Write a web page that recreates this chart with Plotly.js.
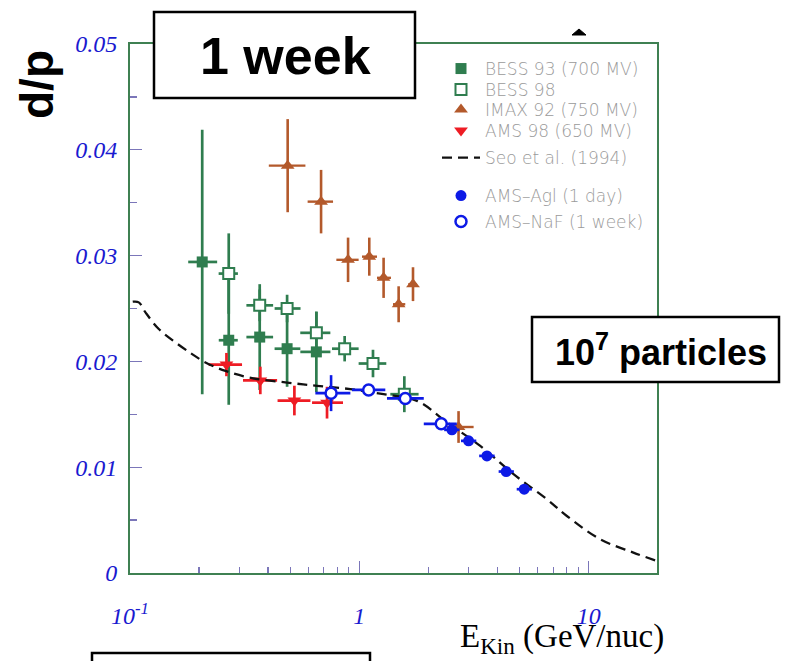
<!DOCTYPE html>
<html>
<head>
<meta charset="utf-8">
<script src="https://cdn.plot.ly/plotly-3.0.1.min.js"></script>
<style>html,body{margin:0;padding:0;background:#fff;}#chart{width:785px;height:661px;}</style>
</head>
<body>
<div id="chart"></div>
<script>
// ---- data ----
const bess93E = [0.2065, 0.2695, 0.3678, 0.4842, 0.6496];
const bess93V = [0.0294, 0.0220, 0.0223, 0.0212, 0.0209];
const bess93Err = [0.0125, 0.0061, 0.0050, 0.0036, 0.0038];
const bess93XP = [0.0334, 0.0256, 0.0529, 0.0688, 0.0984];
const bess93XM = [0.0271, 0.0257, 0.0460, 0.0572, 0.0966];

const bess98E = [0.2695, 0.3678, 0.4842, 0.6496, 0.863, 1.147, 1.571];
const bess98V = [0.0283, 0.0253, 0.0250, 0.0227, 0.0212, 0.0198, 0.0169];
const bess98Err = [0.0038, 0.0015, 0.0013, 0.0020, 0.0012, 0.0013, 0.0017];
const bess98XP = [0.026, 0.053, 0.070, 0.098, 0.130, 0.164, 0.242];
const bess98XM = [0.026, 0.046, 0.057, 0.097, 0.103, 0.154, 0.206];

const imaxE = [0.487, 0.681, 0.893, 1.105, 1.276, 1.484, 1.714, 2.708];
const imaxV = [0.0385, 0.0351, 0.0296, 0.0299, 0.0279, 0.0254, 0.0273, 0.0138];
const imaxErr = [0.0044, 0.0030, 0.0021, 0.0018, 0.0019, 0.0017, 0.0016, 0.0015];
const imaxXP = [0.095, 0.087, 0.100, 0.089, 0.098, 0.102, 0.066, 0.442];
const imaxXM = [0.084, 0.086, 0.099, 0.078, 0.082, 0.082, 0.079, 0.298];

const ams98E = [0.2634, 0.370, 0.521, 0.723];
const ams98V = [0.0197, 0.0182, 0.0163, 0.0161];
const ams98Err = [0.0011, 0.0013, 0.0014, 0.0015];
const ams98XP = [0.0446, 0.068, 0.091, 0.126];
const ams98XM = [0.0429, 0.059, 0.081, 0.101];

const seoE = [0.1028, 0.1092, 0.1168, 0.1335, 0.1578, 0.1866, 0.2133, 0.2607, 0.3406, 0.4842, 0.6542, 0.9137, 1.276, 1.784, 2.411, 3.367, 4.703, 6.576, 8.035, 11.22, 15.67, 19.82];
const seoV = [0.02564, 0.02558, 0.02463, 0.02306, 0.0218, 0.02069, 0.0199, 0.0191, 0.01842, 0.0180, 0.01769, 0.01738, 0.0169, 0.01627, 0.01423, 0.01201, 0.00934, 0.00697, 0.00539, 0.00319, 0.00193, 0.00114];

const aglE = [2.534, 2.995, 3.601, 4.37, 5.236];
const aglV = [0.01353, 0.01249, 0.01107, 0.00959, 0.00792];
const aglErr = [0.0003, 0.0003, 0.0003, 0.0003, 0.0003];
const aglXP = [0.20, 0.24, 0.29, 0.35, 0.42];
const aglXM = [0.19, 0.22, 0.27, 0.32, 0.38];

const nafE = [0.753, 1.098, 1.586, 2.276];
const nafV = [0.0170, 0.0173, 0.0165, 0.0141];
const nafErr = [0.0017, 0.0004, 0.0003, 0.0003];
const nafXP = [0.161, 0.200, 0.324, 0.384];
const nafXM = [0.110, 0.169, 0.266, 0.366];

const xTickVals = [0.1, 1, 10];
const xTickText = ['10<sup>-1</sup>', '1', '10'];
const xMinorVals = [0.2,0.3,0.4,0.5,0.6,0.7,0.8,0.9,2,3,4,5,6,7,8,9];
const yTickVals = [0, 0.01, 0.02, 0.03, 0.04, 0.05];
const yTickText = ['0', '0.01', '0.02', '0.03', '0.04', '0.05'];
const yMinorVals = [0.005,0.015,0.025,0.035,0.045];

// ---- styles ----
const GREEN = '#2f7d4f', BROWN = '#b3592b', RED = '#ee1c24', BLUE = '#0d1ae6';
const FRAME = '#3f8052', TICKC = '#7b76b9';

function ex(p, m, c, w) { return {type:'data', symmetric:false, array:p, arrayminus:m, color:c, thickness:w, width:0}; }
function ey(e, c, w) { return {type:'data', array:e, color:c, thickness:w, width:0}; }

const traces = [
  {x:bess93E, y:bess93V, name:'BESS 93 (700 MV)', mode:'markers', type:'scatter', legend:'legend',
   marker:{symbol:'square', size:11, color:GREEN},
   error_y:ey(bess93Err, GREEN, 2.7), error_x:ex(bess93XP, bess93XM, GREEN, 2.7)},
  {x:bess98E, y:bess98V, name:'BESS 98', mode:'markers', type:'scatter', legend:'legend2',
   marker:{symbol:'square', size:11, color:'#ffffff', line:{color:GREEN, width:2}},
   error_y:ey(bess98Err, GREEN, 2.7), error_x:ex(bess98XP, bess98XM, GREEN, 2.7)},
  {x:imaxE, y:imaxV, name:'IMAX 92 (750 MV)', mode:'markers', type:'scatter', legend:'legend3',
   marker:{symbol:'triangle-up', size:12, color:BROWN},
   error_y:ey(imaxErr, BROWN, 2.6), error_x:ex(imaxXP, imaxXM, BROWN, 2.4)},
  {x:ams98E, y:ams98V, name:'AMS 98 (650 MV)', mode:'markers', type:'scatter', legend:'legend4',
   marker:{symbol:'triangle-down', size:12, color:RED},
   error_y:ey(ams98Err, RED, 2.7), error_x:ex(ams98XP, ams98XM, RED, 2.7)},
  {x:seoE, y:seoV, name:'Seo et al. (1994)', mode:'lines', type:'scatter', legend:'legend5',
   line:{color:'#111111', width:2.3, dash:'10px,6px', shape:'spline', smoothing:1}},
  {x:nafE, y:nafV, name:'AMS\u2013NaF (1 week)', mode:'markers', type:'scatter', legend:'legend7',
   marker:{symbol:'circle', size:11, color:'#ffffff', line:{color:BLUE, width:2.5}},
   error_y:ey(nafErr, BLUE, 2.6), error_x:ex(nafXP, nafXM, BLUE, 2.7)},
  {x:aglE, y:aglV, name:'AMS\u2013Agl (1 day)', mode:'markers', type:'scatter', legend:'legend6',
   marker:{symbol:'circle', size:11, color:BLUE},
   error_y:ey(aglErr, BLUE, 2), error_x:ex(aglXP, aglXM, BLUE, 2.7)}
];

// pixel helpers for paper-placed decorations (plot area 130..657 x 44..573)
const PL = 130, PR = 657, PT = 44, PB = 573;
const px = v => (v - PL) / (PR - PL);
const py = v => (PB - v) / (PB - PT);

const legFont = {family:'DejaVu Sans', size:17, color:'#9a9a9a', weight:300};
function leg(yv) { return {x:px(437), xanchor:'left', y:py(yv), yanchor:'middle', bgcolor:'rgba(0,0,0,0)', borderwidth:0, font:legFont, itemwidth:38}; }
const tickFont = {family:'Liberation Serif', size:24, color:'#1a1ad0', style:'italic'};

const layout = {
  width:785, height:661,
  margin:{l:PL, r:785-PR, t:PT, b:661-PB, pad:0},
  paper_bgcolor:'#ffffff', plot_bgcolor:'#ffffff',
  showlegend:true,
  legend:leg(69), legend2:leg(90), legend3:leg(110), legend4:leg(131),
  legend5:leg(158), legend6:leg(196), legend7:leg(222),
  xaxis:{type:'log', range:[-1, 1.298], showgrid:false, zeroline:false,
    showline:true, mirror:true, linecolor:FRAME, linewidth:2,
    tickmode:'array', tickvals:xTickVals, ticktext:xTickText,
    ticks:'inside', ticklen:12, tickwidth:1.2, tickcolor:TICKC, ticklabelstandoff:20,
    tickfont:tickFont,
    minor:{tickmode:'array', tickvals:xMinorVals, ticks:'inside', ticklen:6, tickwidth:1.2, tickcolor:TICKC, showgrid:false}},
  yaxis:{range:[0, 0.05], showgrid:false, zeroline:false,
    showline:true, mirror:true, linecolor:FRAME, linewidth:2,
    tickmode:'array', tickvals:yTickVals, ticktext:yTickText,
    ticks:'inside', ticklen:12, tickwidth:1.2, tickcolor:TICKC, ticklabelstandoff:6,
    tickfont:tickFont,
    minor:{tickmode:'array', tickvals:yMinorVals, ticks:'inside', ticklen:7, tickwidth:1.2, tickcolor:TICKC, showgrid:false}},
  shapes:[
    {type:'rect', xref:'paper', yref:'paper', x0:px(154), x1:px(415), y0:py(98), y1:py(12), fillcolor:'#ffffff', line:{color:'#000000', width:2.5}, layer:'above'},
    {type:'rect', xref:'paper', yref:'paper', x0:px(532), x1:px(779), y0:py(382), y1:py(317), fillcolor:'#ffffff', line:{color:'#000000', width:2.5}, layer:'above'},
    {type:'rect', xref:'paper', yref:'paper', x0:px(92), x1:px(370), y0:py(700), y1:py(653), fillcolor:'rgba(0,0,0,0)', line:{color:'#000000', width:2.5}, layer:'above'},
    {type:'path', xref:'paper', yref:'paper', path:'M'+px(572)+','+py(35)+' L'+px(586)+','+py(35)+' L'+px(579)+','+py(29)+' Z', fillcolor:'#000000', line:{color:'#000000', width:1}}
  ],
  annotations:[
    {xref:'paper', yref:'paper', x:px(285), y:py(56), text:'<b>1 week</b>', showarrow:false, xanchor:'center', yanchor:'middle',
     font:{family:'Liberation Sans', size:52, color:'#000000'}},
    {xref:'paper', yref:'paper', x:px(661), y:py(350), text:'<b>10<sup>7</sup> particles</b>', showarrow:false, xanchor:'center', yanchor:'middle',
     font:{family:'Liberation Sans', size:36, color:'#000000'}},
    {xref:'paper', yref:'paper', x:px(37), y:py(85), text:'<b>d/p</b>', textangle:-90, showarrow:false, xanchor:'center', yanchor:'middle',
     font:{family:'Liberation Sans', size:46, color:'#000000'}},
    {xref:'paper', yref:'paper', x:px(562), y:py(638), text:'E<sub>Kin</sub> (GeV/nuc)', showarrow:false, xanchor:'center', yanchor:'middle',
     font:{family:'Liberation Serif', size:33, color:'#000000'}}
  ]
};

Plotly.newPlot('chart', traces, layout, {displayModeBar:false, staticPlot:true});
</script>
</body>
</html>
